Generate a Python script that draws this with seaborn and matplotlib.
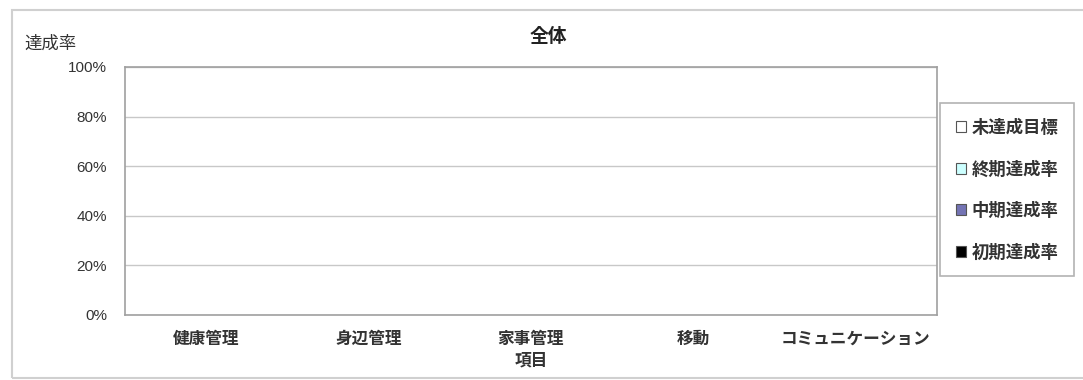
import matplotlib
matplotlib.use("Agg")
import matplotlib.pyplot as plt
from matplotlib.patches import Patch, Rectangle
import seaborn as sns
import pandas as pd
import numpy as np

categories = ["健康管理", "身辺管理", "家事管理", "移動", "コミュニケーション"]
series_names = ["初期達成率", "中期達成率", "終期達成率", "未達成目標"]
initial_rate = [0, 0, 0, 0, 0]
middle_rate = [0, 0, 0, 0, 0]
final_rate = [0, 0, 0, 0, 0]
unachieved = [0, 0, 0, 0, 0]
series_colors = ["#000000", "#7474B4", "#CCFFFF", "#FFFFFF"]
y_ticks = [0, 0.2, 0.4, 0.6, 0.8, 1.0]
y_tick_labels = ["0%", "20%", "40%", "60%", "80%", "100%"]

sns.set_theme(style="white")
plt.rcParams["font.family"] = ["Liberation Sans", "Noto Sans CJK JP", "DejaVu Sans"]

fig = plt.figure(figsize=(10.83, 3.8), dpi=100)
ax = fig.add_axes([125/1083, 1-315/380, (937-125)/1083, (315-67)/380])

values = [initial_rate, middle_rate, final_rate, unachieved]
cum = np.cumsum(np.array(values, dtype=float), axis=0)
# draw stacked bars from top of stack down so lower segments overlay
for i in range(len(series_names) - 1, -1, -1):
    df = pd.DataFrame({"項目": categories, "値": cum[i]})
    sns.barplot(data=df, x="項目", y="値", color=series_colors[i], ax=ax,
                width=0.5, edgecolor="#000000", linewidth=0.6)

ax.set_ylim(0, 1.0)
ax.set_xlim(-0.5, len(categories) - 0.5)
ax.set_yticks(y_ticks)
ax.set_yticklabels(y_tick_labels, fontsize=11, color="#333333")
ax.set_xticks(range(len(categories)))
ax.set_xticklabels(categories, fontsize=12, color="#333333", fontweight="bold")
ax.set_xticks(np.arange(-0.5, len(categories), 1.0), minor=True)
ax.tick_params(axis="x", which="major", length=0, pad=12)
ax.tick_params(axis="x", which="minor", direction="in", length=4, color="#b0b0b0", width=1)
ax.tick_params(axis="y", length=0, pad=13)
ax.set_xlabel("項目", fontsize=12, color="#333333", fontweight="bold", labelpad=4)
ax.set_ylabel("")
ax.yaxis.grid(True, color="#c8c8c8", linewidth=1)
ax.set_axisbelow(True)
for sp in ax.spines.values():
    sp.set_color("#a0a0a0")
    sp.set_linewidth(1.2)

fig.text(24/1083, 1-44/380, "達成率", fontsize=12.5, color="#333333", ha="left", va="center")
fig.text(548/1083, 1-37/380, "全体", fontsize=13.5, fontweight="bold", color="#222222",
         ha="center", va="center")

legend_names = ["未達成目標", "終期達成率", "中期達成率", "初期達成率"]
legend_colors = ["#FFFFFF", "#CCFFFF", "#7474B4", "#000000"]
handles = [Patch(facecolor=c, edgecolor="#555555", linewidth=0.8, label=n)
           for n, c in zip(legend_names, legend_colors)]
leg = fig.legend(handles=handles, loc="upper left", bbox_to_anchor=(940/1083, 1-103/380),
                 frameon=True, fancybox=False, prop={"size": 12.5, "weight": "bold"},
                 labelspacing=1.4, handlelength=0.6, handleheight=0.6, handletextpad=0.3,
                 borderpad=0.9, borderaxespad=0)
leg.get_frame().set_edgecolor("#a0a0a0")
leg.get_frame().set_linewidth(1.2)
for t in leg.get_texts():
    t.set_color("#333333")

fig.patches.append(Rectangle((12/1083, 2/380), 1.0, 1-12/380, transform=fig.transFigure,
                             fill=False, edgecolor="#d0d0d0", linewidth=1.5))

fig.savefig("out.png", dpi=100)
